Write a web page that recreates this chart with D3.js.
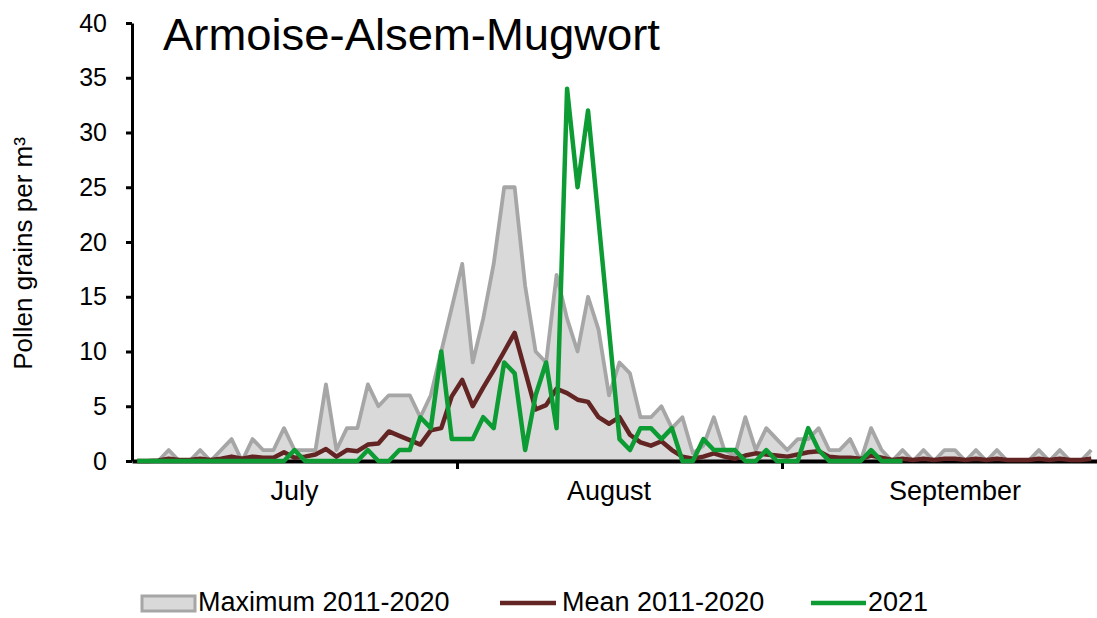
<!DOCTYPE html>
<html>
<head>
<meta charset="utf-8">
<script src="https://cdn.jsdelivr.net/npm/d3@7"></script>
<style>
  body { margin: 0; background: #fff; }
  text { font-family: "Liberation Sans", Arial, sans-serif; fill: #000; }
</style>
</head>
<body>
<svg id="chart" width="1097" height="618"></svg>
<script>
// daily values, 1 July .. 30 September (92 days)
const maxValues = [
  0, 0, 0, 1, 0, 0, 1, 0, 1, 2, 0, 2, 1, 1, 3, 1, 1, 1, 7, 1, 3, 3, 7, 5, 6, 6, 6, 4, 6, 10, 14,
  18, 9, 13, 18, 25, 25, 16, 10, 9, 17, 13, 10, 15, 12, 6, 9, 8, 4, 4, 5, 3, 4, 0.7, 1.4, 4, 1, 0.5, 4, 1, 3, 2,
  1, 2, 2, 3, 1, 1, 2, 0, 3, 1, 0, 1, 0, 1, 0, 1, 1, 0, 1, 0, 1, 0, 0, 0, 1, 0, 1, 0, 0, 1
];
const meanValues = [
  0, 0, 0.05, 0.2, 0.1, 0.1, 0.2, 0.1, 0.2, 0.4, 0.2, 0.4, 0.3, 0.3, 0.8, 0.3, 0.4, 0.6, 1.1, 0.4, 1.0, 0.9, 1.5, 1.6, 2.7, 2.3, 1.9, 1.5, 2.8, 3.0, 5.9,
  7.4, 5.0, 6.7, 8.3, 10.0, 11.7, 8.2, 4.7, 5.1, 6.6, 6.2, 5.6, 5.4, 4.0, 3.4, 4.0, 2.4, 1.7, 1.4, 1.8, 1.0, 0.4, 0.2, 0.4, 0.7, 0.4, 0.2, 0.5, 0.7, 0.6, 0.5,
  0.4, 0.6, 0.8, 0.9, 0.4, 0.3, 0.3, 0.2, 0.5, 0.3, 0.1, 0.2, 0.1, 0.2, 0.1, 0.2, 0.2, 0.1, 0.2, 0.1, 0.2, 0.1, 0.1, 0.1, 0.2, 0.1, 0.2, 0.1, 0.1, 0.2
];
// 2021 season, up to 12 September
const values2021 = [
  0, 0, 0, 0, 0, 0, 0, 0, 0, 0, 0, 0, 0, 0, 0, 1, 0, 0, 0, 0, 0, 0, 1, 0, 0, 1, 1, 4, 3, 10, 2,
  2, 2, 4, 3, 9, 8, 1, 6, 9, 3, 34, 25, 32, 22, 12, 2, 1, 3, 3, 2, 3, 0, 0, 2, 1, 1, 1, 0, 0, 1, 0,
  0, 0, 3, 1, 0, 0, 0, 0, 1, 0, 0, 0
];
const monthNames = ["July", "August", "September"];
const monthStarts = [0, 31, 62, 92];
const monthLabelDays = [15, 45, 78];
const yTicks = [0, 5, 10, 15, 20, 25, 30, 35, 40];
const legendItems = ["Maximum 2011-2020", "Mean 2011-2020", "2021"];

const svg = d3.select("#chart");

const x = d3.scaleLinear().domain([0, 92]).range([132, 1096.5]);
const y = d3.scaleLinear().domain([0, 40]).range([461, 23]);
const px = (d, i) => x(i + 0.5);

const greyFill = "#d9d9d9", greyLine = "#a6a6a6", meanColor = "#632523", greenColor = "#0c9c33";

// maximum as a filled area
svg.append("path")
    .datum(maxValues)
    .attr("fill", greyFill)
    .attr("d", d3.area().x(px).y0(y(0)).y1(d => y(d)));

svg.append("path")
    .datum(maxValues)
    .attr("fill", "none")
    .attr("stroke", greyLine)
    .attr("stroke-width", 3.8)
    .attr("stroke-linejoin", "round")
    .attr("d", d3.line().x(px).y(d => y(d)));

// axes
const xAxis = svg.append("g")
    .attr("transform", "translate(0," + y(0) + ")")
    .call(d3.axisBottom(x).tickValues(monthStarts.slice(1, 3)).tickSize(8).tickSizeOuter(0).tickFormat(""));
xAxis.select(".domain").attr("stroke", "#000").attr("stroke-width", 4);
xAxis.selectAll(".tick line").attr("stroke", "#000").attr("stroke-width", 3);

const yAxis = svg.append("g")
    .attr("transform", "translate(" + x(0) + ",0)")
    .call(d3.axisLeft(y).tickValues(yTicks).tickSize(6).tickSizeOuter(0).tickPadding(19));
yAxis.select(".domain").attr("stroke", "#000").attr("stroke-width", 3);
yAxis.selectAll(".tick line").attr("stroke", "#000").attr("stroke-width", 3);
yAxis.selectAll(".tick text")
    .attr("font-size", 25)
    .attr("font-family", "Liberation Sans, Arial, sans-serif")
    .attr("fill", "#000");

// series lines
svg.append("path")
    .datum(meanValues)
    .attr("fill", "none")
    .attr("stroke", meanColor)
    .attr("stroke-width", 4.5)
    .attr("stroke-linejoin", "round")
    .attr("d", d3.line().x(px).y(d => y(d)));

svg.append("path")
    .datum(values2021)
    .attr("fill", "none")
    .attr("stroke", greenColor)
    .attr("stroke-width", 4.5)
    .attr("stroke-linejoin", "round")
    .attr("d", d3.line().x(px).y(d => y(d)));

// month labels
svg.selectAll(".month")
    .data(monthNames)
    .enter().append("text")
    .attr("class", "month")
    .attr("x", (d, i) => x(monthLabelDays[i] + 0.5))
    .attr("y", 500)
    .attr("text-anchor", "middle")
    .attr("font-size", 27)
    .text(d => d);

// y axis title
svg.append("text")
    .attr("transform", "translate(32,253.5) rotate(-90)")
    .attr("text-anchor", "middle")
    .attr("font-size", 26)
    .text("Pollen grains per m³");

// chart title
svg.append("text")
    .attr("x", 163)
    .attr("y", 50)
    .attr("font-family", "Lato, 'Open Sans', sans-serif")
    .attr("font-size", 45)
    .attr("textLength", 497)
    .attr("lengthAdjust", "spacingAndGlyphs")
    .text("Armoise-Alsem-Mugwort");

// legend
const legend = svg.append("g").attr("class", "legend");
legend.append("rect")
    .attr("x", 142).attr("y", 596).attr("width", 53).attr("height", 15)
    .attr("fill", greyFill).attr("stroke", greyLine).attr("stroke-width", 3);
legend.append("line")
    .attr("x1", 500).attr("x2", 556).attr("y1", 603).attr("y2", 603)
    .attr("stroke", meanColor).attr("stroke-width", 4.5);
legend.append("line")
    .attr("x1", 811).attr("x2", 866).attr("y1", 603).attr("y2", 603)
    .attr("stroke", greenColor).attr("stroke-width", 4.5);
legend.selectAll(".ltext")
    .data(legendItems)
    .enter().append("text")
    .attr("class", "ltext")
    .attr("x", (d, i) => [198, 562, 868][i])
    .attr("y", 611)
    .attr("font-size", 27)
    .text(d => d);
</script>
</body>
</html>
